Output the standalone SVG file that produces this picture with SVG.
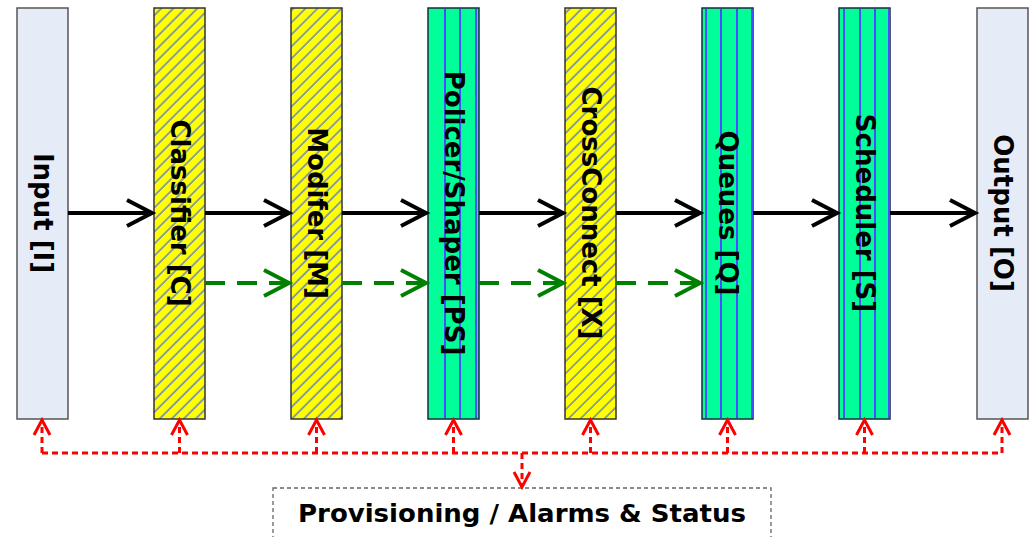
<svg xmlns="http://www.w3.org/2000/svg" width="1029" height="537" viewBox="0 0 1029 537">
<defs>
<pattern id="hatch" patternUnits="userSpaceOnUse" width="8.5" height="8.5" patternTransform="rotate(45)">
<rect width="8.5" height="8.5" fill="#ffff00"/>
<line x1="1" y1="0" x2="1" y2="8.5" stroke="#3355ff" stroke-width="1.1"/>
</pattern>
<marker id="ab" markerUnits="userSpaceOnUse" markerWidth="40" markerHeight="40" viewBox="-30 -20 40 40" refX="0" refY="0" orient="auto">
<path d="M-25,-13 L0,0 L-25,13" fill="none" stroke="#000" stroke-width="4"/>
</marker>
<marker id="ag" markerUnits="userSpaceOnUse" markerWidth="40" markerHeight="40" viewBox="-30 -20 40 40" refX="0" refY="0" orient="auto">
<path d="M-25,-13 L0,0 L-25,13" fill="none" stroke="#008000" stroke-width="4"/>
</marker>
<marker id="ar" markerUnits="userSpaceOnUse" markerWidth="30" markerHeight="30" viewBox="-20 -15 30 30" refX="0" refY="0" orient="auto">
<path d="M-15,-8 L0,0 L-15,8" fill="none" stroke="#ff0000" stroke-width="3"/>
</marker>
</defs>
<style>
.plain{fill:#e6ecf7;stroke:#555;stroke-width:1.5}
.yel{fill:url(#hatch);stroke:#333;stroke-width:1.5}
.grn{fill:#00ff99;stroke:#1a2a40;stroke-width:1.5}
.stripe{stroke:#4a4cff;stroke-width:2}
.lbl{font-family:"DejaVu Sans",Verdana,sans-serif;font-weight:bold;font-size:26px;fill:#000;text-anchor:middle;dominant-baseline:central}
.blk{stroke:#000;stroke-width:4;fill:none;marker-end:url(#ab)}
.gr{stroke:#008000;stroke-width:4;fill:none;stroke-dasharray:20 12;marker-end:url(#ag)}
.rd{stroke:#ff0000;stroke-width:3;fill:none;stroke-dasharray:6 4}
</style>
<g id="input">
<rect class="plain" x="17" y="8" width="51" height="411"/>
<text class="lbl" transform="translate(42.5,213) rotate(90)">Input [I]</text>
</g>
<g id="classifier">
<rect class="yel" x="154" y="8" width="51" height="411"/>
<text class="lbl" transform="translate(179.5,213) rotate(90)">Classifier [C]</text>
</g>
<g id="modifier">
<rect class="yel" x="291" y="8" width="51" height="411"/>
<text class="lbl" transform="translate(316.5,213) rotate(90)">Modifer [M]</text>
</g>
<g id="policer">
<rect class="grn" x="428" y="8" width="51" height="411"/>
<line class="stripe" x1="445" y1="9" x2="445" y2="418"/>
<line class="stripe" x1="460" y1="9" x2="460" y2="418"/>
<line class="stripe" x1="476" y1="9" x2="476" y2="418"/>
<text class="lbl" transform="translate(453.5,213) rotate(90)">Policer/Shaper [PS]</text>
</g>
<g id="crossconnect">
<rect class="yel" x="565" y="8" width="51" height="411"/>
<text class="lbl" transform="translate(590.5,213) rotate(90)">CrossConnect [X]</text>
</g>
<g id="queues">
<rect class="grn" x="702" y="8" width="51" height="411"/>
<line class="stripe" x1="706" y1="9" x2="706" y2="418"/>
<line class="stripe" x1="721" y1="9" x2="721" y2="418"/>
<line class="stripe" x1="737" y1="9" x2="737" y2="418"/>
<line class="stripe" x1="752" y1="9" x2="752" y2="418"/>
<text class="lbl" transform="translate(727.5,213) rotate(90)">Queues [Q]</text>
</g>
<g id="scheduler">
<rect class="grn" x="839" y="8" width="51" height="411"/>
<line class="stripe" x1="844" y1="9" x2="844" y2="418"/>
<line class="stripe" x1="860" y1="9" x2="860" y2="418"/>
<line class="stripe" x1="875" y1="9" x2="875" y2="418"/>
<line class="stripe" x1="889" y1="9" x2="889" y2="418"/>
<text class="lbl" transform="translate(864.5,213) rotate(90)">Scheduler [S]</text>
</g>
<g id="output">
<rect class="plain" x="977" y="8" width="51" height="411"/>
<text class="lbl" transform="translate(1002.5,213) rotate(90)">Output [O]</text>
</g>
<g id="provisioning">
<rect x="273" y="488" width="498" height="60" fill="#fff" stroke="#666" stroke-width="1.3" stroke-dasharray="4 3"/>
<text x="522" y="522" font-family="DejaVu Sans,Verdana,sans-serif" font-weight="bold" font-size="24" text-anchor="middle" textLength="448" lengthAdjust="spacingAndGlyphs">Provisioning / Alarms &amp; Status</text>
</g>
<g id="connectors">
<line class="blk" x1="68" y1="213" x2="152" y2="213"/>
<line class="blk" x1="205" y1="213" x2="289" y2="213"/>
<line class="blk" x1="342" y1="213" x2="426" y2="213"/>
<line class="blk" x1="479" y1="213" x2="563" y2="213"/>
<line class="blk" x1="616" y1="213" x2="700" y2="213"/>
<line class="blk" x1="753" y1="213" x2="837" y2="213"/>
<line class="blk" x1="890" y1="213" x2="975" y2="213"/>
<line class="gr" x1="205" y1="283" x2="289" y2="283"/>
<line class="gr" x1="342" y1="283" x2="426" y2="283"/>
<line class="gr" x1="479" y1="283" x2="563" y2="283"/>
<line class="gr" x1="616" y1="283" x2="700" y2="283"/>
<line class="rd" x1="42" y1="453" x2="1002" y2="453"/>
<line class="rd" x1="42" y1="453" x2="42" y2="420" marker-end="url(#ar)"/>
<line class="rd" x1="179.5" y1="453" x2="179.5" y2="420" marker-end="url(#ar)"/>
<line class="rd" x1="316.5" y1="453" x2="316.5" y2="420" marker-end="url(#ar)"/>
<line class="rd" x1="453.5" y1="453" x2="453.5" y2="420" marker-end="url(#ar)"/>
<line class="rd" x1="590.5" y1="453" x2="590.5" y2="420" marker-end="url(#ar)"/>
<line class="rd" x1="727.5" y1="453" x2="727.5" y2="420" marker-end="url(#ar)"/>
<line class="rd" x1="864.5" y1="453" x2="864.5" y2="420" marker-end="url(#ar)"/>
<line class="rd" x1="1002" y1="453" x2="1002" y2="420" marker-end="url(#ar)"/>
<line class="rd" x1="522" y1="453" x2="522" y2="487" marker-end="url(#ar)"/>
</g>
</svg>
